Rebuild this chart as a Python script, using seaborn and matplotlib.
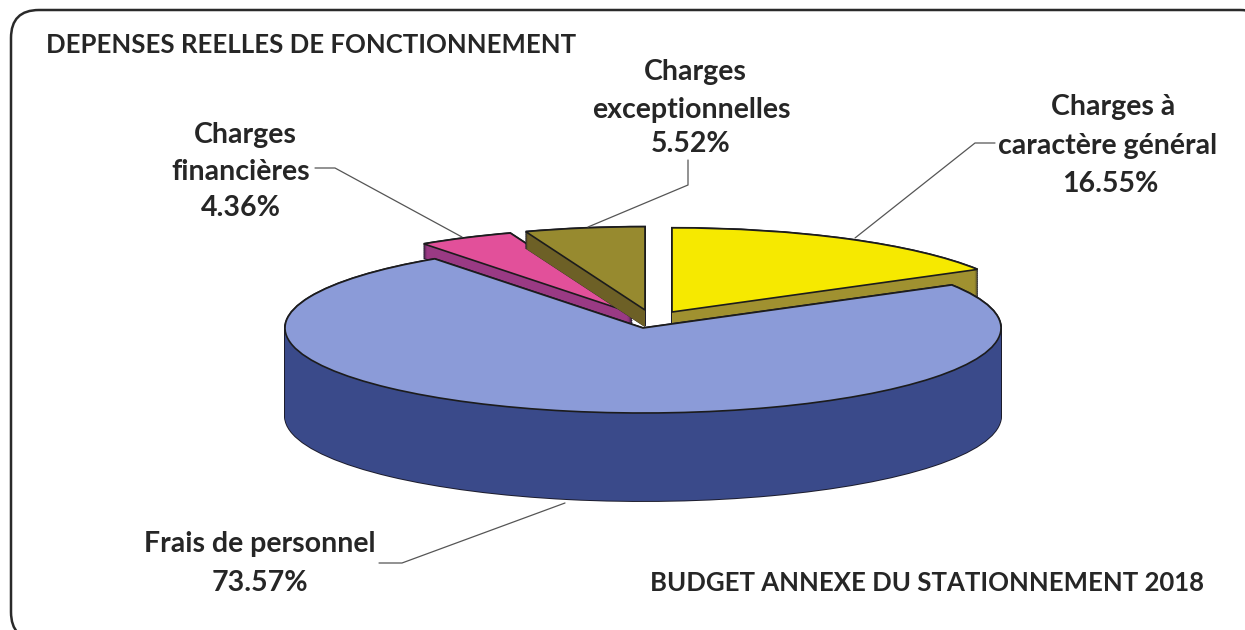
import matplotlib
matplotlib.use("Agg")
import matplotlib.pyplot as plt
from matplotlib.patches import FancyBboxPatch
import seaborn as sns

# values
categories = ["Charges à caractère général", "Frais de personnel",
              "Charges financières", "Charges exceptionnelles"]
shares = [16.55, 73.57, 4.36, 5.52]
share_labels = ["16.55%", "73.57%", "4.36%", "5.52%"]

# drawing order back to front
draw_order = [0, 2, 3, 1]

top_colors = ["#f6e900", "#8b9bd8", "#e2509a", "#978a2f"]
side_colors = ["#a09130", "#3a4a8a", "#9a3a84", "#6d6026"]

# layout of the exploded slices, in pixels of the picture
centers_px = [(672, 312), (643, 328), (632, 313), (645, 310)]
radii = [0.99, 1.0, 1.0, 0.98]
depths = [30, 88, 14, 17]
RX, RY = 358, 85
CX, CY = 643, 328

sns.set_theme(style="white")
plt.rcParams["font.family"] = ["Lato", "DejaVu Sans"]
plt.rcParams["font.weight"] = "bold"
INK = "#262626"

fig = plt.figure(figsize=(12.45, 6.3), dpi=100, facecolor="white")

# frame goes under everything, the scan cuts it off on the right and at the bottom
fr = fig.add_axes([0, 0, 1, 1])
fr.set_xlim(0, 1245)
fr.set_ylim(630, 0)
fr.axis("off")
fr.add_patch(FancyBboxPatch((35, 34), 1209, 582, boxstyle="round,pad=24,rounding_size=28",
                            fc="white", ec="#2a2a2a", lw=1.8))

ax = fig.add_axes([0, 0, 1, 1], facecolor="none")

fractions = [s / sum(shares) for s in shares]
start = 90.0
starts = []
for f in fractions:
    starts.append(start)
    start -= f * 360


def slice_at(i, px, py, color, edge, lw):
    c = ((px - CX) / RX, (CY - py) / RY)
    ax.pie([fractions[i]], normalize=False, startangle=starts[i], counterclock=False,
           center=c, radius=radii[i], colors=[color], frame=True,
           wedgeprops=dict(edgecolor=edge, linewidth=lw))


for i in draw_order:
    px, py = centers_px[i]
    # outline of the side first, then the fill on top of it
    for d in range(0, depths[i] + 1, 2):
        slice_at(i, px, py + d, side_colors[i], "#1c1c2c", 1.4)
    for d in range(0, depths[i] + 1):
        slice_at(i, px, py + d, side_colors[i], "none", 0)
    slice_at(i, px, py, top_colors[i], "#1c1c1c", 1.2)

ax.set_aspect("auto")
ax.set_xlim(-CX / RX, (1245 - CX) / RX)
ax.set_ylim((CY - 630) / RY, CY / RY)
ax.set_xticks([])
ax.set_yticks([])
sns.despine(ax=ax, left=True, bottom=True, right=True, top=True)

# text layer in picture pixels
tx = fig.add_axes([0, 0, 1, 1], facecolor="none")
tx.set_xlim(0, 1245)
tx.set_ylim(630, 0)
tx.axis("off")

leaders = [
    ([995, 975, 855], [143, 143, 238]),
    ([688, 688, 588], [160, 185, 227]),
    ([315, 335, 462], [168, 168, 237]),
    ([379, 402, 565], [563, 563, 503]),
]
for xs, ys in leaders:
    tx.plot(xs, ys, color="#555555", lw=0.9)


def label(x, y, s, ha="center", size=20.5):
    tx.text(x, y, s, ha=ha, va="center", fontsize=size, color=INK, fontweight="bold")


label(46, 45, "DEPENSES REELLES DE FONCTIONNEMENT", ha="left", size=18.5)
label(650, 583, "BUDGET ANNEXE DU STATIONNEMENT 2018", ha="left", size=18.5)

label(1113, 107, "Charges à")
label(1108, 146, "caractère général")
label(1110, 184, share_labels[0])

label(695, 72, "Charges")
label(691, 110, "exceptionnelles")
label(691, 144, share_labels[3])

label(245, 135, "Charges")
label(241, 172, "financières")
label(241, 208, share_labels[2])

label(260, 544, "Frais de personnel")
label(260, 583, share_labels[1])

fig.savefig("out.png", dpi=100)
